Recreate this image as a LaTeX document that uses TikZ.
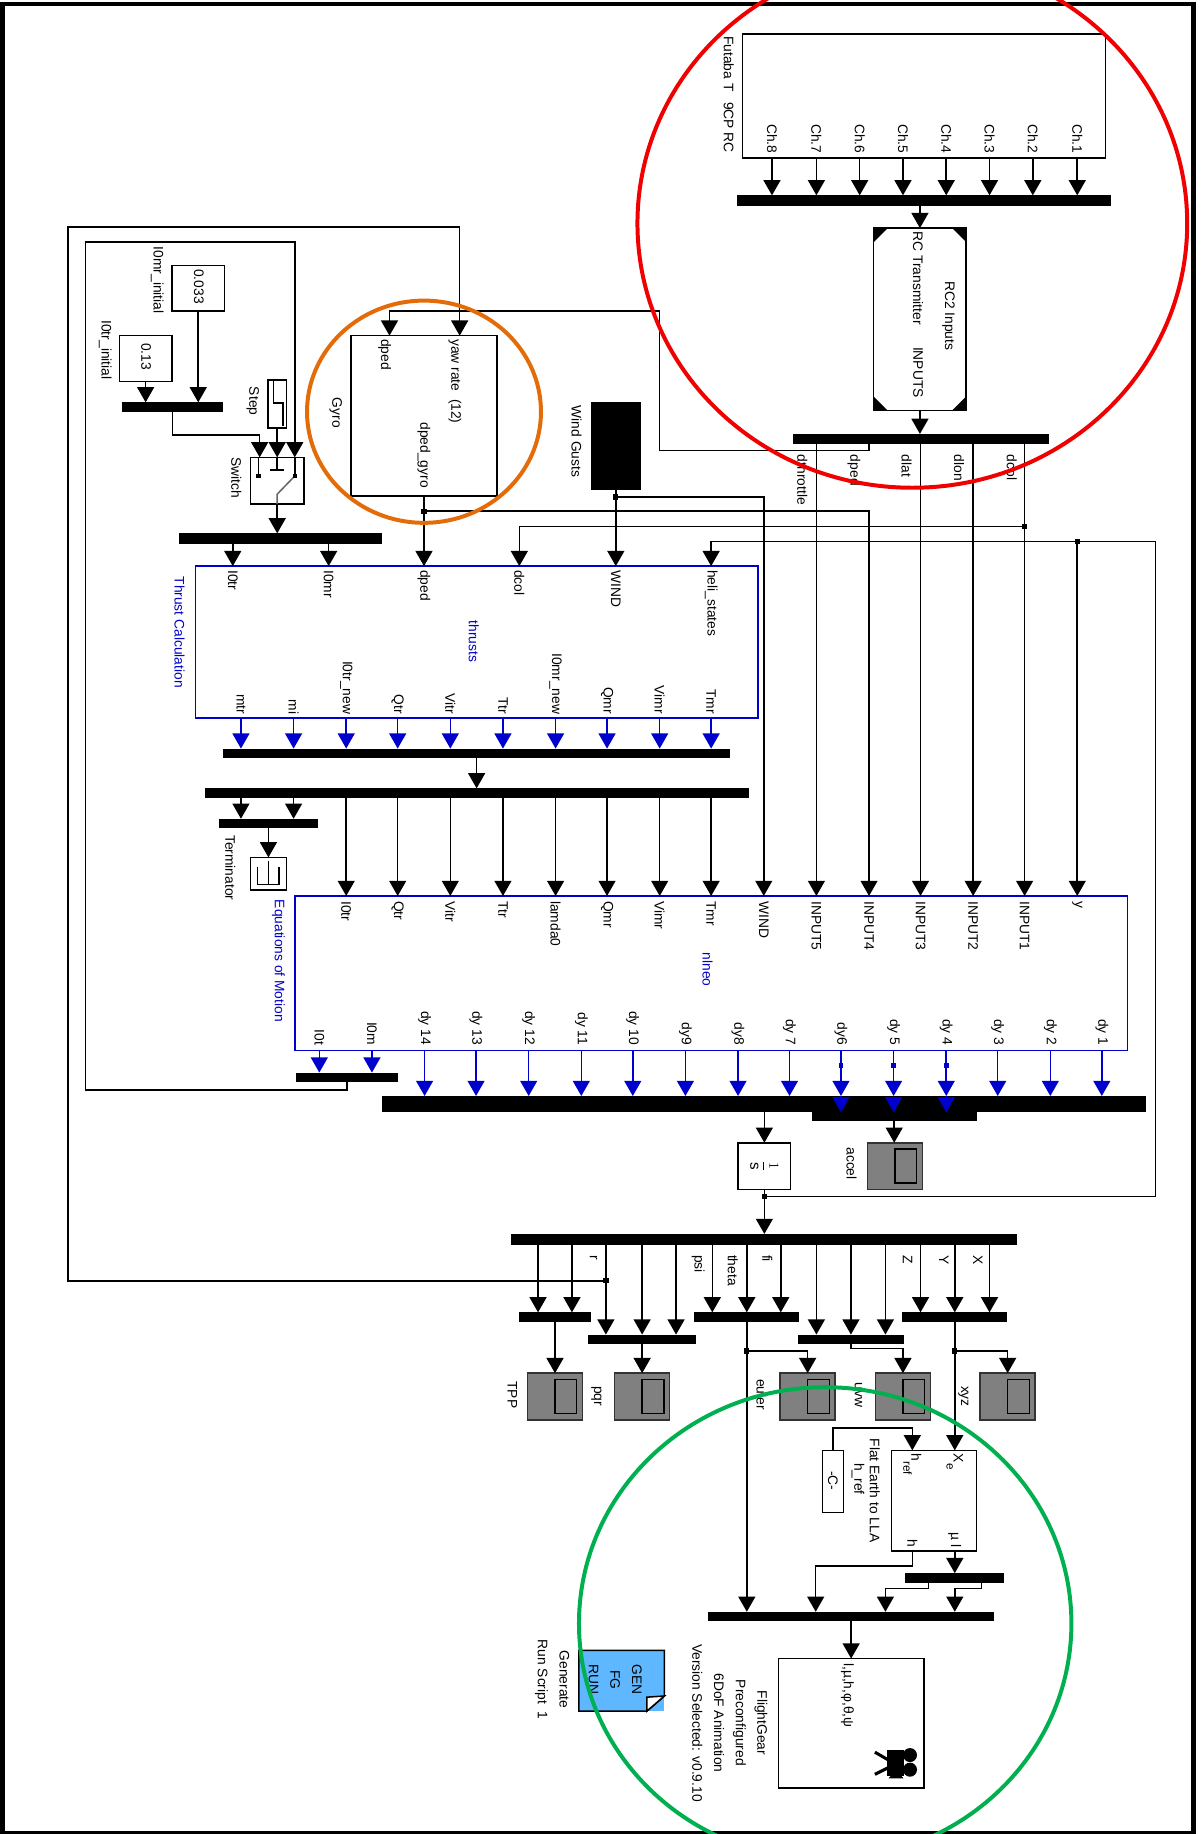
\documentclass[tikz,border=0pt]{standalone}
\usepackage{fontspec}
\setmainfont{Liberation Sans}
\usepackage{xcolor}
\definecolor{SigBlue}{HTML}{0000CC}
\definecolor{ScopeGray}{HTML}{808080}
\definecolor{GenBlue}{HTML}{5FB8FF}
\definecolor{RingRed}{HTML}{F00000}
\definecolor{RingOrange}{HTML}{E36C09}
\definecolor{RingGreen}{HTML}{00B050}
\usetikzlibrary{arrows.meta}
\tikzset{
  box/.style 2 args={minimum width=#1pt, minimum height=#2pt},
  blk/.style={draw=black, fill=white, line width=1.3pt, inner sep=0pt, outer sep=0pt},
  blkblue/.style={draw=SigBlue, line width=1.3pt, inner sep=0pt, outer sep=0pt},
  busbar/.style={fill=black, inner sep=0pt, outer sep=0pt},
  scopeblk/.style={draw=black!80, fill=ScopeGray, line width=1.3pt, inner sep=0pt, outer sep=0pt, minimum width=47pt, minimum height=40pt},
  scopewin/.style={draw=black, fill=ScopeGray, line width=1.3pt, inner sep=0pt, outer sep=0pt, minimum width=18.5pt, minimum height=29pt},
  lab/.style={font=\fontsize{11.8}{18.5}\selectfont, rotate=-90, inner sep=0pt, outer sep=0pt, align=center},
  labst/.style={lab, anchor=west},
  labend/.style={lab, anchor=east},
  labblue/.style={lab, text=SigBlue},
  wire/.style={line width=1.3pt, black},
  sig/.style={wire, -{Triangle[length=13pt,width=14.5pt]}},
  sigblue/.style={line width=1.3pt, SigBlue, -{Triangle[length=13pt,width=14.5pt]}},
  jdot/.style={fill=black, inner sep=0pt, outer sep=0pt, minimum size=4.5pt},
  jdotblue/.style={fill=SigBlue, inner sep=0pt, outer sep=0pt, minimum size=4pt},
  ring/.style={line width=3.4pt}
}
\begin{document}
\begin{tikzpicture}[x=1pt, y=-1pt]
\useasboundingbox (0,0) rectangle (1026,1568);
\fill[white] (0,0) rectangle (1026,1568);
\draw[line width=4pt] (2,3.5) rectangle (1020.5,1567);

% radio and inputs
\node[blk, box={310}{106}] (fut) at (790,82) {};
\node[busbar, box={320}{9}] (busch) at (790,171.5) {};
\node[blk, box={79}{156}] (rcin) at (786.5,273) {};
\node[busbar, box={219}{9}] (busrc) at (787.5,375.5) {};
\node[labst] (futlab) at (623,31) {Futaba T\hspace{9pt}9CP RC};
\foreach \x/\nm/\lab in {660/ch8/Ch.8,698/ch7/Ch.7,735/ch6/Ch.6,772/ch5/Ch.5,809/ch4/Ch.4,846/ch3/Ch.3,883/ch2/Ch.2,921/ch1/Ch.1}{
  \node[labend] (\nm) at (\x,131) {\lab};
  \draw[sig] (\nm |- fut.south) -- (\nm |- busch.north);
}
\draw[sig] (rcin.north |- busch.south) -- (rcin.north);
\fill (747,195) -- (759,195) -- (747,207) -- cycle;
\fill (826,195) -- (814,195) -- (826,207) -- cycle;
\fill (747,351) -- (759,351) -- (747,339) -- cycle;
\fill (826,351) -- (814,351) -- (826,339) -- cycle;
\node[labst] (rctx) at (785,198) {RC Transmitter};
\node[labend] (rcout) at (785,340) {INPUTS};
\node[lab] (rcname) at (811,270) {RC2 Inputs};
\draw[sig] (rcin.south) -- (rcin.south |- busrc.north);
\node[labst] (dthr) at (686,389) {dthrottle};
\node[labst] (dpedl) at (730,389) {dped};
\node[labst] (dlat) at (775,389) {dlat};
\node[labst] (dlon) at (820,389) {dlon};
\node[labst] (dcoll) at (865,389) {dcol};

% gyro
\node[blk, box={125}{137}] (gyro) at (362.5,355.5) {};
\node[lab] (gyrolab) at (287,353) {Gyro};
\node[labst] (gped) at (329,290) {dped};
\node[labst] (gyaw) at (389,290) {yaw rate~~(12)};
\node[labend] (gout) at (362.5,417) {dped\_gyro};
\coordinate (gpedin) at (333,287);
\coordinate (gyawin) at (393,287);

% wind
\node[busbar, box={43}{75}] (wind) at (526.5,381.5) {};
\node[labst] (windlab) at (493,347) {Wind Gusts};

% initial values and switch
\node[blk, box={45}{39}] (c033) at (169.5,246.5) {};
\node[blk, box={45}{39}] (c013) at (124.5,306.5) {};
\node[lab] (c033v) at (170,245) {0.033};
\node[lab] (c013v) at (125,305) {0.13};
\node[labst] (c033lab) at (134.5,211) {I0mr\_initial};
\node[labst] (c013lab) at (90,274) {I0tr\_initial};
\node[busbar, box={87}{8}] (businit) at (147.5,348) {};
\node[blk, box={16}{41}] (stepb) at (237,345.5) {};
\node[lab] (steplab) at (216,343) {Step};
\draw[line width=1pt] (234,326) -- (234,344.5) -- (242,344.5) -- (242,364);
\node[blk, box={46}{40}] (swt) at (237,411) {};
\node[labst] (swtlab) at (202,391) {Switch};
\coordinate (swa) at (222,391);
\coordinate (swc) at (252,391);
\draw[sig] (c013.south) -- (c013.south |- businit.north);
\draw[sig] (c033.south) -- (c033.south |- businit.north);
\draw[sig] (businit.south) -- ++(0,20) -| (swa);
\draw[sig] (stepb.south) -- (swt.north);
\draw[wire] (221,391) -- (221,407) (231,402) -- (243,402) (237,391) -- (237,402) (252,391) -- (252,407);
\draw[line width=1.3pt, black!60] (252,407) -- (237,422.5) -- (237,431);
\node[jdot, minimum size=3.5pt] (swdl) at (221,407) {};
\node[jdot, minimum size=3.5pt] (swdr) at (252,407) {};
\node[busbar, box={174}{9}] (busthr) at (240,460.5) {};
\draw[sig] (swt.south) -- (swt.south |- busthr.north);

% thrust block
\node[blkblue, box={481}{130}] (thr) at (407.5,549) {};
\node[labblue] (thrlab) at (153.5,540.5) {Thrust Calculation};
\node[labblue] (thrname) at (405,548.5) {thrusts};
\foreach \x/\nm/\lab in {199/tin1/I0tr,281/tin2/I0mr,362.5/tin3/dped,444/tin4/dcol,526.5/tin5/WIND,608/tin6/heli\_states}{
  \node[labst] (\nm) at (\x,487.5) {\lab};
}
\draw[sig] (tin1 |- busthr.south) -- (tin1 |- thr.north);
\draw[sig] (tin2 |- busthr.south) -- (tin2 |- thr.north);
\draw[sig] (gyro.south) -- (tin3 |- thr.north);
\draw[sig] (wind.south) -- (tin5 |- thr.north);
\node[busbar, box={433}{8}] (busa) at (407.5,644) {};
\node[busbar, box={465}{8}] (busb) at (407.5,678) {};
\foreach \x/\nm/\lab in {206/mtr/mtr,251/mi/mi,296/tnew/I0tr\_new,340/qtrt/Qtr,385/vitrt/Vitr,430/ttrt/Ttr,475/mnew/I0mr\_new,519/qmrt/Qmr,564/vimrt/Vimr,608/tmrt/Tmr}{
  \node[labend] (\nm) at (\x,610.5) {\lab};
  \draw[sigblue] (\nm |- thr.south) -- (\nm |- busa.north);
}
\draw[sig] (busa.south) -- (busb.north);

% terminator
\node[busbar, box={85}{8}] (bust) at (229.5,704) {};
\node[blk, box={31}{28}] (term) at (229.5,747) {};
\node[labst] (termlab) at (197,714) {Terminator};
\draw[sig] (mtr |- busb.south) -- (mtr |- bust.north);
\draw[sig] (mi |- busb.south) -- (mi |- bust.north);
\draw[sig] (bust.south) -- (term.north);
\draw[line width=1pt] (220.5,741) -- (220.5,756) -- (238.5,756) -- (238.5,741) (229.5,736) -- (229.5,756);

% equations of motion
\node[blkblue, box={712}{132}] (eom) at (608,832) {};
\node[labblue] (eomlab) at (238,821.5) {Equations of Motion};
\node[labblue] (eomname) at (605,829) {nlneo};
\foreach \x/\nm/\lab in {296/ei1/I0tr,340/ei2/Qtr,385/ei3/Vitr,430/ei4/Ttr,475/ei5/lamda0,519/ei6/Qmr,564/ei7/Vimr,608/ei8/Tmr}{
  \node[labst] (\nm) at (\x,770.5) {\lab};
  \draw[sig] (\nm |- busb.south) -- (\nm |- eom.north);
}
\foreach \x/\nm/\lab in {653/ei9/WIND,698/inp5/INPUT5,743/inp4/INPUT4,787/inp3/INPUT3,832/inp2/INPUT2,876/inp1/INPUT1,921/eiy/y}{
  \node[labst] (\nm) at (\x,770.5) {\lab};
}
\draw[sig] (inp5 |- busrc.south) -- (inp5 |- eom.north);
\draw[sig] (inp3 |- busrc.south) -- (inp3 |- eom.north);
\draw[sig] (inp2 |- busrc.south) -- (inp2 |- eom.north);
\draw[sig] (inp1 |- busrc.south) -- (inp1 |- eom.north);
\draw[sig] (inp4 |- busrc.south) -- ++(0,5) -| (564,266) -| (gpedin);
\node[jdot] (jg) at (362.5,437) {};
\draw[sig] (jg) -| (inp4 |- eom.north);
\node[jdot] (jc) at (876,450) {};
\draw[sig] (jc) -| (tin4 |- thr.north);
\node[jdot] (jw) at (526.5,425) {};
\draw[sig] (jw) -| (ei9 |- eom.north);

\node[busbar, box={87}{8}] (busi) at (296.5,921) {};
\node[busbar, box={653}{14}] (busd) at (653.5,944) {};
\node[busbar, box={141}{7}] (busacc) at (764.5,954.5) {};
\node[labend] (oit) at (273,893.5) {I0t};
\node[labend] (oim) at (318,893.5) {I0m};
\draw[sigblue] (oit |- eom.south) -- (oit |- busi.north);
\draw[sigblue] (oim |- eom.south) -- (oim |- busi.north);
\foreach \x/\nm/\lab in {363/dy14/dy 14,407/dy13/dy 13,452/dy12/dy 12,497/dy11/dy 11,541/dy10/dy 10,586/dy9/dy9,631/dy8/dy8,675/dy7/dy 7,719/dy6/dy6,764/dy5/dy 5,809/dy4/dy 4,853/dy3/dy 3,898/dy2/dy 2,942/dy1/dy 1}{
  \node[labend] (\nm) at (\x,893.5) {\lab};
  \draw[sigblue] (\nm |- eom.south) -- (\nm |- busd.north);
}
\foreach \nm in {dy6,dy5,dy4}{
  \draw[sigblue] (\nm |- busd.north) -- (\nm |- busacc.north);
  \node[jdotblue] (\nm-dot) at (\nm |- 0,911) {};
}
\draw[sig] (busi.south) -- ++(0,7) -| (73,207) -| (swc);

% integrator and states
\node[blk, box={45}{40}] (integ) at (653.5,997) {};
\node[lab, font=\fontsize{13}{15}\selectfont] (integv) at (653.5,997) {$\displaystyle\frac{1}{\mathrm{s}}$};
\node[scopeblk] (accel) at (765,997) {};
\node[scopewin, xshift=9.25pt] (accel-win) at (accel) {};
\node[labst] (accellab) at (728,981) {accel};
\draw[sig] (integ.north |- busd.south) -- (integ.north);
\draw[sig] (busacc.south) -- (busacc.south |- accel.north);
\node[busbar, box={433}{9}] (busst) at (653,1059.5) {};
\draw[sig] (integ.south) -- (integ.south |- busst.north);
\node[jdot] (jy) at (653.5,1023) {};
\node[jdot] (jh) at (eiy |- 0,463) {};
\draw[sig] (jy) -| (988,463) -| (tin6 |- thr.north);
\draw[sig] (jh) -- (eiy |- eom.north);

\node[busbar, box={61}{8}] (bustpp) at (474.5,1126) {};
\node[busbar, box={92}{8}] (buspqr) at (549,1145) {};
\node[busbar, box={90}{8}] (buseul) at (638.5,1126) {};
\node[busbar, box={91}{8}] (busuvw) at (727.5,1145) {};
\node[busbar, box={89.5}{8}] (busxyz) at (816.3,1126) {};
\foreach \x/\b in {460/bustpp,489/bustpp,518/buspqr,549/buspqr,578/buspqr,609/buseul,638.5/buseul,667.5/buseul,698/busuvw,727.5/busuvw,757/busuvw,787/busxyz,816.3/busxyz,846/busxyz}{
  \draw[sig] (\x,0 |- busst.south) -- (\x,0 |- \b.north);
}
\node[labst] (rlab) at (507.5,1073) {r};
\node[labst] (psilab) at (597,1073) {psi};
\node[labst] (thlab) at (626.5,1073) {theta};
\node[labst] (filab) at (656,1073) {fi};
\node[labst] (zlab) at (776,1073) {Z};
\node[labst] (ylab) at (807,1073) {Y};
\node[labst] (xlab) at (836,1073) {X};
\node[jdot] (jr) at (518,1095) {};
\draw[sig] (jr) -| (58,194) -| (gyawin);

% scopes
\foreach \x/\nm in {474.5/sctpp,549/scpqr,690.5/sceul,772/scuvw,861.5/scxyz}{
  \node[scopeblk] (\nm) at (\x,1194) {};
  \node[scopewin, xshift=9.25pt] (\nm-win) at (\nm) {};
}
\node[labst] (tpplab) at (438,1181) {TPP};
\node[labst] (pqrlab) at (510,1185) {pqr};
\node[labst] (eullab) at (651,1179) {euler};
\node[labst] (uvwlab) at (734,1182) {uvw};
\node[labst] (xyzlab) at (823.5,1185) {xyz};
\draw[sig] (bustpp.south) -- (sctpp.north);
\draw[sig] (buspqr.south) -- (scpqr.north);
\node[jdot] (je) at (638.5,1155) {};
\draw[sig] (je) -| (sceul.north);
\draw[sig] (busuvw.south) -- ++(0,4) -| (scuvw.north);
\node[jdot] (jx) at (816.3,1155) {};
\draw[sig] (jx) -| (scxyz.north);

% lla and flight gear
\node[blk, box={73}{86}] (lla) at (798.5,1283) {};
\node[blk, box={18}{53}] (cref) at (712,1266.5) {};
\node[lab] (crefv) at (712,1266) {-C-};
\node[labst] (lla1) at (748,1230) {Flat Earth to LLA};
\node[labst] (lla2) at (733.5,1251) {h\_ref};
\node[labst] (llaxe) at (816.3,1243) {X\raisebox{-6pt}{\fontsize{10}{12}\selectfont e}};
\node[labst] (llahr) at (780,1243) {h\raisebox{-7pt}{\fontsize{10}{12}\selectfont ref}};
\node[labend] (llamu) at (816.3,1323) {µ l};
\node[labend] (llah) at (780,1323) {h};
\draw[sig] (busxyz.south) -- (busxyz.south |- lla.north);
\coordinate (llain) at (780,1240);
\draw[sig] (cref.north) -- ++(0,-19) -| (llain);
\node[busbar, box={84.5}{8}] (busmu) at (816.3,1349) {};
\node[busbar, box={244.5}{8}] (busfg) at (727.7,1382) {};
\draw[sig] (busmu.north |- lla.south) -- (busmu.north);
\draw[sig] (llain |- lla.south) -- ++(0,13) -| (697.4,0 |- busfg.north);
\draw[sig] (794,0 |- busmu.south) -- ++(0,5) -| (757,0 |- busfg.north);
\draw[sig] (839,0 |- busmu.south) -- ++(0,5) -| (816.3,0 |- busfg.north);
\draw[sig] (buseul.south) -- (buseul.south |- busfg.north);
\node[blk, box={124.3}{110.6}] (fg) at (727.8,1473.3) {};
\draw[sig] (busfg.south) -- (busfg.south |- fg.north);
\node[labst] (fgin) at (724.6,1422) {l,µ,h,φ,θ,ψ};
\node[lab] (fglab) at (624,1473) {FlightGear\\Preconfigured\\6DoF Animation\\Version Selected: v0.9.10};
% camera
\fill (758,1496) rectangle (773,1518);
\fill (778,1500.5) circle (6pt) (778,1513) circle (6pt);
\draw[line width=2.6pt] (748,1498) -- (760,1505) (748,1517) -- (760,1511);
\fill (766.5,1513) -- (772.5,1520.5) -- (759.5,1520.5) -- cycle;

% run script
\node[fill=GenBlue, box={73}{52}, inner sep=0pt, outer sep=0pt] (gen) at (531.5,1437) {};
\draw[line width=1.3pt, fill=GenBlue] (495,1411) -- (568,1411) -- (568,1450) -- (553,1463) -- (495,1463) -- cycle;
\draw[line width=1.3pt, fill=white] (568,1450) -- (553,1451) -- (553,1463) -- cycle;
\node[lab] (gentxt) at (526,1436) {GEN\\FG\\RUN};
\node[lab] (genlab) at (472,1436) {Generate\\Run Script~~1};

% rings
\begin{scope}
\clip (0,0) rectangle (1026,1568);
\draw[ring, RingRed] (780,191) ellipse [x radius=235pt, y radius=226pt];
\draw[ring, RingOrange] (362.5,352) ellipse [x radius=100pt, y radius=95pt];
\draw[ring, RingGreen] (705.5,1388) ellipse [x radius=210.5pt, y radius=202pt];
\end{scope}
\end{tikzpicture}
\end{document}
